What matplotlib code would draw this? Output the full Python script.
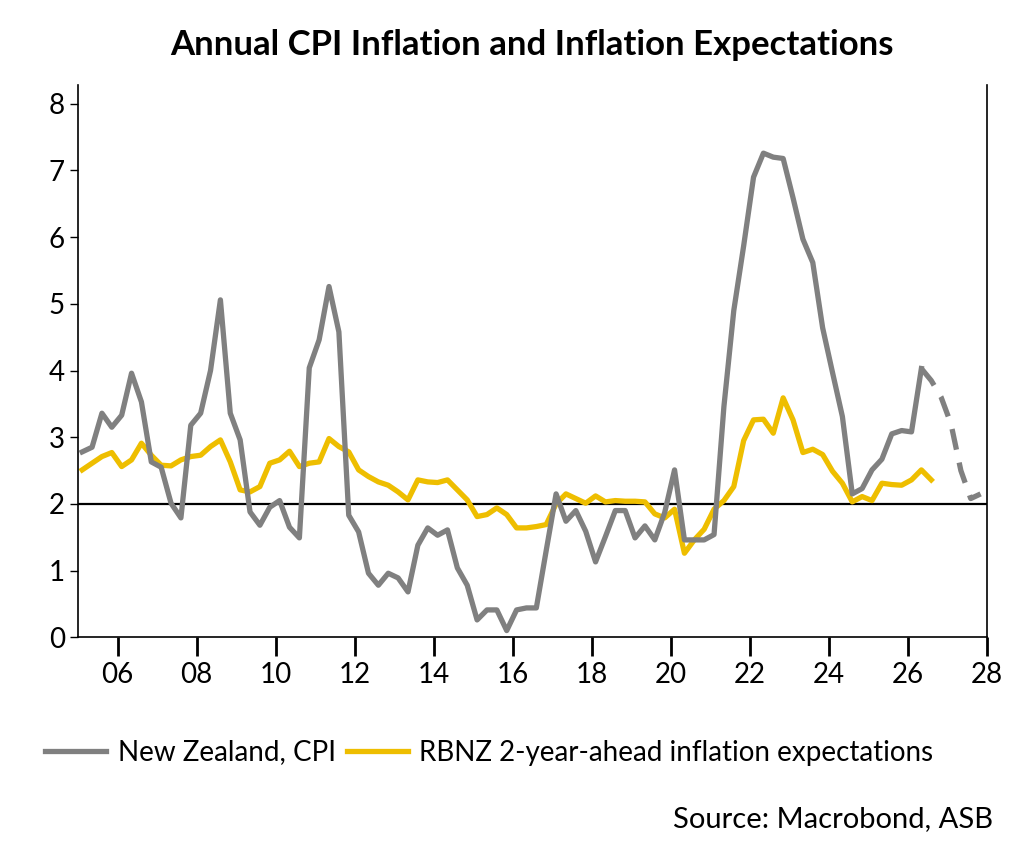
import numpy as np
import matplotlib.pyplot as plt

plt.rcParams['font.family'] = ['Lato', 'DejaVu Sans']

# quarterly series starting 2005 Q1
start = 2005.1
cpi = [2.78, 2.85, 3.36, 3.15, 3.33, 3.96, 3.53, 2.63, 2.55, 2.01, 1.79, 3.18,
       3.36, 4.0, 5.06, 3.36, 2.96, 1.88, 1.68, 1.95, 2.05, 1.65, 1.49, 4.04,
       4.46, 5.26, 4.58, 1.83, 1.58, 0.96, 0.78, 0.96, 0.89, 0.68, 1.38, 1.64,
       1.53, 1.61, 1.04, 0.78, 0.26, 0.41, 0.41, 0.1, 0.41, 0.44, 0.44, 1.3,
       2.15, 1.74, 1.9, 1.59, 1.13, 1.51, 1.9, 1.9, 1.49, 1.67, 1.46, 1.87,
       2.51, 1.46, 1.46, 1.46, 1.54, 3.46, 4.9, 5.87, 6.9, 7.26, 7.2, 7.18,
       6.59, 5.97, 5.62, 4.64, 3.97, 3.31, 2.15, 2.23, 2.51, 2.67, 3.05, 3.1,
       3.08, 4.03]
cpi_forecast = [4.03, 3.85, 3.6, 3.2, 2.5, 2.08, 2.15]
expect = [2.51, 2.61, 2.71, 2.77, 2.56, 2.66, 2.91, 2.73, 2.58, 2.57, 2.66, 2.71,
          2.73, 2.86, 2.96, 2.63, 2.21, 2.18, 2.26, 2.61, 2.66, 2.79, 2.56, 2.61,
          2.63, 2.98, 2.86, 2.78, 2.51, 2.41, 2.33, 2.28, 2.18, 2.06, 2.36, 2.33,
          2.32, 2.36, 2.21, 2.06, 1.81, 1.84, 1.94, 1.84, 1.64, 1.64, 1.66, 1.69,
          2.0, 2.15, 2.08, 2.01, 2.12, 2.03, 2.05, 2.04, 2.04, 2.03, 1.85, 1.79,
          1.92, 1.26, 1.46, 1.62, 1.92, 2.05, 2.26, 2.95, 3.26, 3.27, 3.06, 3.59,
          3.26, 2.77, 2.82, 2.74, 2.49, 2.31, 2.03, 2.11, 2.05, 2.31, 2.29, 2.28,
          2.36, 2.51, 2.36]
xticks = np.arange(2006, 2029, 2)
xticklabels = ['06', '08', '10', '12', '14', '16', '18', '20', '22', '24', '26', '28']

x_cpi = start + 0.25 * np.arange(len(cpi))
x_fc = x_cpi[-1] + 0.25 * np.arange(len(cpi_forecast))
x_exp = start + 0.25 * np.arange(len(expect))

grey = '#808080'
yellow = '#EEBE00'

fig = plt.figure(figsize=(10.16, 8.6), dpi=100)
ax = fig.add_axes([0.077, 0.259, 0.894, 0.642])

ax.axhline(2, color='black', lw=1.6, zorder=1)
ax.plot(x_cpi, cpi, color=grey, lw=3.8, label='New Zealand, CPI', zorder=3)
ax.plot(x_fc, cpi_forecast, color=grey, lw=3.8, dashes=(4, 2.5), zorder=3)
ax.plot(x_exp, expect, color=yellow, lw=3.8,
        label='RBNZ 2-year-ahead inflation expectations', zorder=2)

ax.set_xlim(2005, 2028)
ax.set_ylim(0, 8.28)
ax.set_yticks(range(0, 9))
ax.set_xticks(xticks)
ax.set_xticklabels(xticklabels)
ax.tick_params(axis='x', length=14, width=2, labelsize=20, pad=4)
ax.tick_params(axis='y', length=6, width=1, labelsize=20)
ax.spines['top'].set_visible(False)
for s in ['left', 'right', 'bottom']:
    ax.spines[s].set_linewidth(1.2)

ax.set_title('Annual CPI Inflation and Inflation Expectations',
             fontsize=25, fontweight='bold', pad=22)

handles, labels = ax.get_legend_handles_labels()
fig.legend(handles, labels, loc='center left', bbox_to_anchor=(0.02, 0.125),
           ncol=2, frameon=False, fontsize=20, handlelength=2.2,
           columnspacing=0.4, handletextpad=0.4)
fig.text(0.977, 0.048, 'Source: Macrobond, ASB', ha='right', va='center', fontsize=21)

fig.savefig('out.png', dpi=100)
